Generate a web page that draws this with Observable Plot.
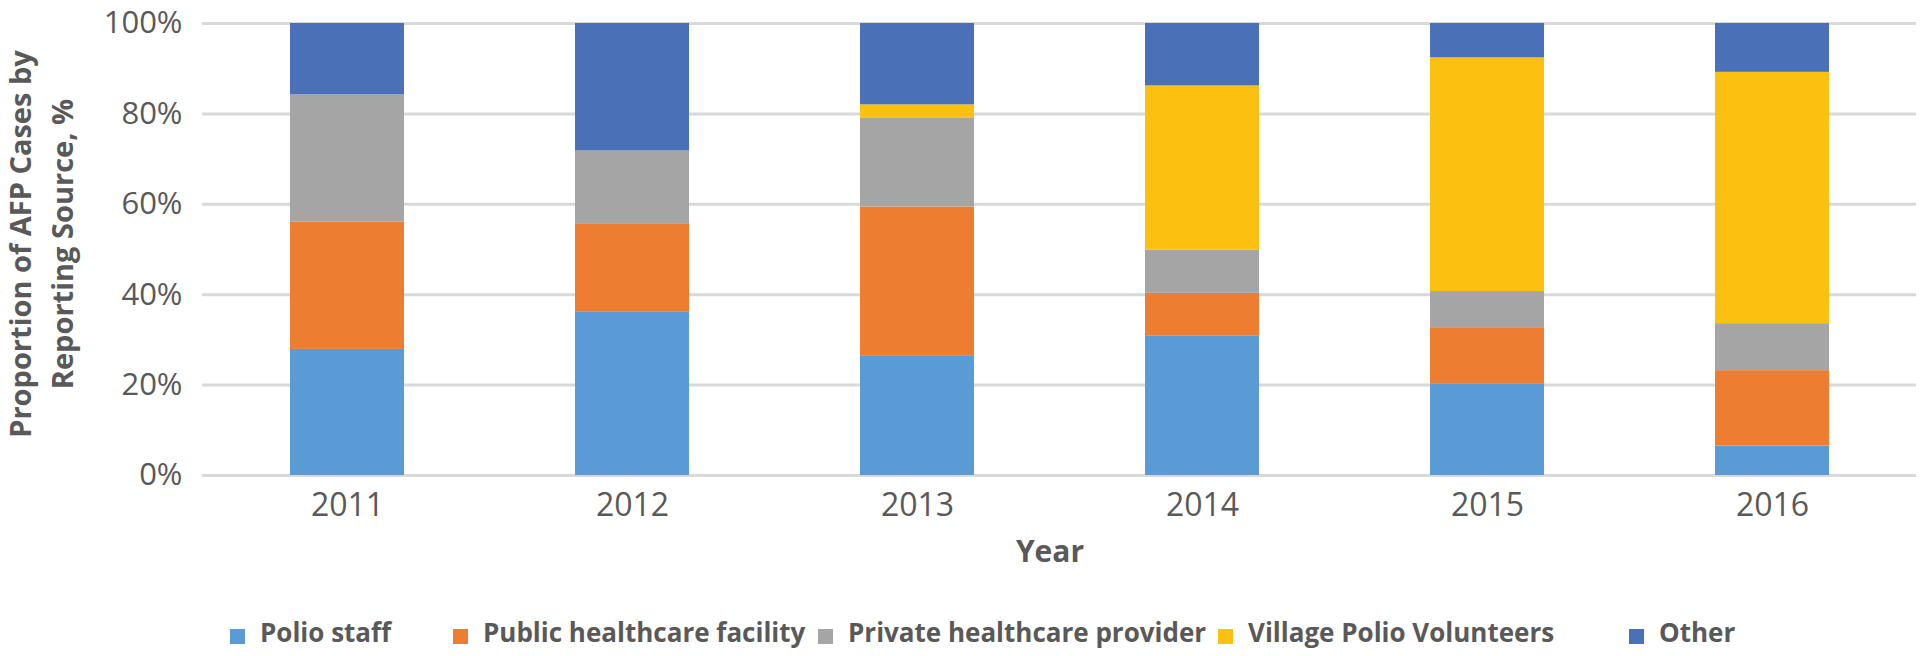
<!DOCTYPE html>
<html>
<head>
<meta charset="utf-8">
<script src="https://cdn.jsdelivr.net/npm/d3@7"></script>
<script src="https://cdn.jsdelivr.net/npm/@observablehq/plot@0.6"></script>
<style>
  html, body { margin: 0; padding: 0; background: #ffffff; }
  body { width: 1920px; height: 656px; overflow: hidden; font-family: "Open Sans", sans-serif; }
  #chart svg { display: block; }
  #legend { position: relative; width: 1920px; height: 66px; }
  .item { position: absolute; top: 32px; height: 20px; display: flex; align-items: center;
          font-family: "Open Sans", sans-serif; font-weight: bold; font-size: 26px; color: #595959; white-space: nowrap; }
  .sw { width: 15px; height: 15px; position: relative; top: 4px; margin-right: 15px; flex: none; }
</style>
</head>
<body>
<div id="chart"></div>
<div id="legend"></div>
<script>
const years = ["2011", "2012", "2013", "2014", "2015", "2016"];
const sources = ["Polio staff", "Public healthcare facility", "Private healthcare provider", "Village Polio Volunteers", "Other"];
const polioStaff = [27.9, 36.1, 26.5, 30.8, 20.3, 6.5];
const publicFacility = [28.2, 19.6, 32.9, 9.5, 12.4, 16.7];
const privateProvider = [28.1, 16.1, 19.6, 9.6, 8.0, 10.4];
const villageVolunteers = [0, 0, 3.0, 36.3, 51.7, 55.6];
const other = [15.8, 28.2, 18.0, 13.8, 7.6, 10.8];
const yTicks = [0, 20, 40, 60, 80, 100];
const colors = ["#5B9BD5", "#ED7D31", "#A5A5A5", "#FCC010", "#4A70B7"];
const yTitle = ["Proportion of AFP Cases by", "Reporting Source, %"];
const xTitle = "Year";

const series = [polioStaff, publicFacility, privateProvider, villageVolunteers, other];
const data = sources.flatMap((s, i) => years.map((yr, j) => ({year: yr, source: s, value: series[i][j]})));

const chart = Plot.plot({
  width: 1920,
  height: 590,
  marginLeft: 202,
  marginRight: 4,
  marginTop: 23,
  marginBottom: 115,
  style: {fontFamily: "Open Sans", color: "#595959", background: "#ffffff"},
  x: {domain: years, paddingInner: 0.6, paddingOuter: 0.3, label: null},
  y: {domain: [0, 100], label: null},
  color: {domain: sources, range: colors},
  marks: [
    Plot.gridY(yTicks, {stroke: "#D9D9D9", strokeWidth: 3, strokeOpacity: 1}),
    Plot.barY(data, {x: "year", y: "value", fill: "source"}),
    Plot.axisX({tickSize: 0, tickPadding: 18, fontSize: 32, label: null}),
    Plot.axisY(yTicks, {tickSize: 0, tickPadding: 20, fontSize: 31, tickFormat: d => d + "%", label: null})
  ]
});

const svg = d3.select(chart);
const t = svg.append("text")
  .attr("transform", "translate(0,244) rotate(-90)")
  .attr("text-anchor", "middle")
  .attr("font-family", "Open Sans")
  .attr("font-weight", "bold")
  .attr("font-size", 29)
  .attr("fill", "#595959");
t.append("tspan").attr("x", 0).attr("y", 31).text(yTitle[0]);
t.append("tspan").attr("x", 0).attr("y", 73).text(yTitle[1]);

svg.append("text")
  .attr("x", 1050).attr("y", 562)
  .attr("text-anchor", "middle")
  .attr("font-family", "Open Sans")
  .attr("font-weight", "bold")
  .attr("font-size", 30)
  .attr("fill", "#595959")
  .text(xTitle);

document.getElementById("chart").appendChild(chart);

const legendLefts = [230, 453, 818, 1218, 1629];
const legend = document.getElementById("legend");
sources.forEach((s, i) => {
  const item = document.createElement("div");
  item.className = "item";
  item.style.left = legendLefts[i] + "px";
  const sw = document.createElement("span");
  sw.className = "sw";
  sw.style.background = colors[i];
  const lab = document.createElement("span");
  lab.textContent = s;
  item.appendChild(sw);
  item.appendChild(lab);
  legend.appendChild(item);
});
</script>
</body>
</html>
